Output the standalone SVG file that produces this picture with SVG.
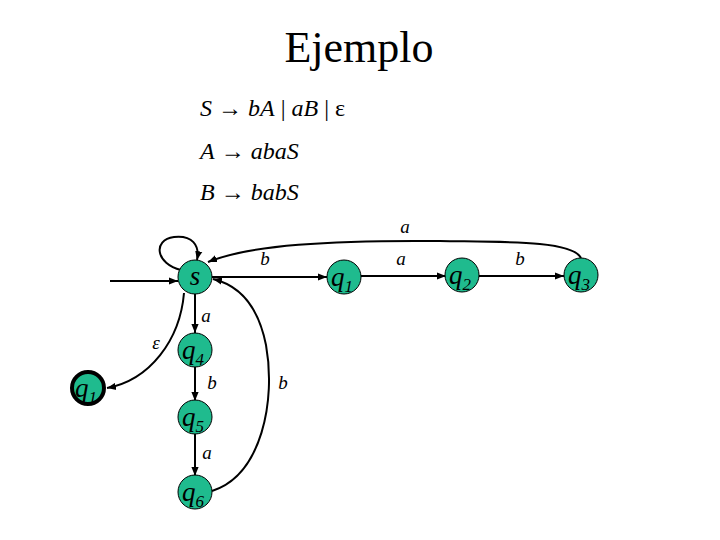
<svg xmlns="http://www.w3.org/2000/svg" width="720" height="540" viewBox="0 0 720 540">
<defs>
<marker id="ah" viewBox="0 0 10 10" refX="10" refY="5" markerWidth="9" markerHeight="9" markerUnits="userSpaceOnUse" orient="auto">
<path d="M0,1 L10,5 L0,9 Z" fill="#000"/>
</marker>
</defs>
<style>
.st{fill:#1fbb8e;stroke:#000;stroke-width:1}
.fin{fill:#1fbb8e;stroke:#000;stroke-width:4}
.e{fill:none;stroke:#000;stroke-width:2;marker-end:url(#ah)}
.lbl{font-family:"Liberation Serif",serif;font-style:italic;font-size:19px;fill:#000}
.nl{font-family:"Liberation Serif",serif;font-style:italic;font-size:27px;fill:#000}
.sub{font-size:17px}
.g{font-family:"Liberation Serif",serif;font-size:24px;fill:#000}
.gi{font-style:italic}
</style>
<rect width="720" height="540" fill="#fff"/>
<text x="359" y="62" text-anchor="middle" font-family="Liberation Serif,serif" font-size="44">Ejemplo</text>
<text class="g" x="200" y="116"><tspan class="gi">S</tspan> → <tspan class="gi">bA</tspan> | <tspan class="gi">aB</tspan> | ε</text>
<text class="g" x="200" y="159"><tspan class="gi">A</tspan> → <tspan class="gi">abaS</tspan></text>
<text class="g" x="200" y="200"><tspan class="gi">B</tspan> → <tspan class="gi">babS</tspan></text>
<g id="connectors">
<line class="e" x1="110" y1="281" x2="178" y2="281"/>
<path class="e" d="M181,270 C156,264 152,240 174,237 C192,235 200,245 197,260"/>
<line class="e" x1="212" y1="277" x2="327" y2="277"/>
<line class="e" x1="361" y1="276" x2="446" y2="276"/>
<line class="e" x1="479" y1="276" x2="564" y2="276"/>
<path class="e" d="M581,258 C572,240 500,242 440,241 C330,240 250,245 208,262"/>
<line class="e" x1="195" y1="294" x2="195" y2="333"/>
<line class="e" x1="195" y1="367" x2="195" y2="401"/>
<line class="e" x1="195" y1="434" x2="195" y2="476"/>
<path class="e" d="M184,293 C180,340 150,380 107,388"/>
<path class="e" d="M212,491 C262,475 276,400 266,345 C258,305 238,285 213,279"/>
<text class="lbl" x="405" y="233" text-anchor="middle">a</text>
<text class="lbl" x="265" y="265" text-anchor="middle">b</text>
<text class="lbl" x="401" y="265" text-anchor="middle">a</text>
<text class="lbl" x="520" y="265" text-anchor="middle">b</text>
<text class="lbl" x="206" y="322" text-anchor="middle">a</text>
<text class="lbl" x="212" y="389" text-anchor="middle">b</text>
<text class="lbl" x="283" y="389" text-anchor="middle">b</text>
<text class="lbl" x="207" y="459" text-anchor="middle">a</text>
<text class="lbl" x="156" y="349" text-anchor="middle" font-style="normal">ε</text>
</g>
<g id="s"><circle class="st" cx="195" cy="277" r="17"/><text class="nl" x="195" y="285" text-anchor="middle" font-size="24">s</text></g>
<g id="q1"><circle class="st" cx="344" cy="277" r="17"/><text class="nl" x="331" y="286">q<tspan class="sub" dy="6">1</tspan></text></g>
<g id="q2"><circle class="st" cx="462" cy="275" r="17"/><text class="nl" x="449" y="284">q<tspan class="sub" dy="6">2</tspan></text></g>
<g id="q3"><circle class="st" cx="581" cy="275" r="17"/><text class="nl" x="568" y="284">q<tspan class="sub" dy="6">3</tspan></text></g>
<g id="q4"><circle class="st" cx="195" cy="350" r="17"/><text class="nl" x="182" y="359">q<tspan class="sub" dy="6">4</tspan></text></g>
<g id="q5"><circle class="st" cx="195" cy="417" r="17"/><text class="nl" x="182" y="426">q<tspan class="sub" dy="6">5</tspan></text></g>
<g id="q6"><circle class="st" cx="195" cy="492" r="17"/><text class="nl" x="182" y="501">q<tspan class="sub" dy="6">6</tspan></text></g>
<g id="qf"><circle class="fin" cx="88" cy="388" r="16"/><text class="nl" x="75" y="397">q<tspan class="sub" dy="6">1</tspan></text></g>
</svg>
